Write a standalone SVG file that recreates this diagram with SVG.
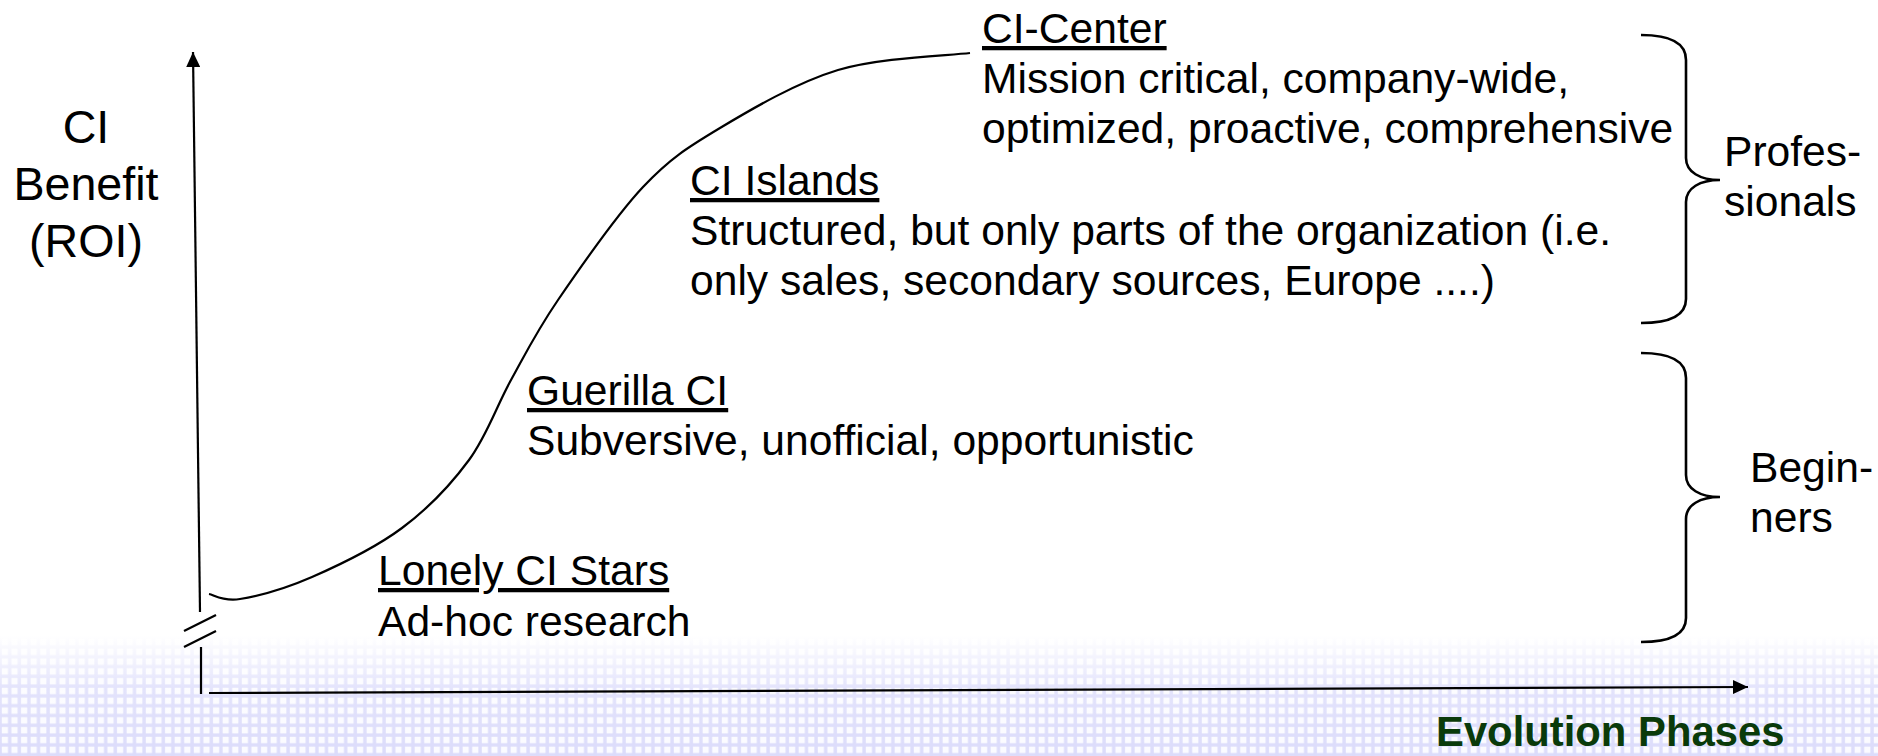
<svg xmlns="http://www.w3.org/2000/svg" width="1878" height="756" viewBox="0 0 1878 756">
<style>
  .t { font-family: 'Liberation Sans', Arial, sans-serif; font-size: 42.6px; fill: #000; }
  .ax { font-family: 'Liberation Sans', Arial, sans-serif; font-size: 46.6px; fill: #000; text-anchor: middle; }
  .u { text-decoration: underline; }
  .ln { fill: none; stroke: #000; stroke-width: 2.2; }
  .br { fill: none; stroke: #000; stroke-width: 2.6; }
  .ev { font-family: 'Liberation Sans', Arial, sans-serif; font-size: 41.8px; font-weight: bold; fill: #0a3a0a; }
</style>
<defs>
  <pattern id="grid" patternUnits="userSpaceOnUse" x="0" y="0" width="9.6" height="9.8">
    <rect width="9.6" height="9.8" fill="#dcdcfb"/>
    <rect x="1.8" y="1.8" width="6.2" height="6.4" fill="#fbfbff"/>
  </pattern>
  <linearGradient id="fade" x1="0" y1="0" x2="0" y2="1">
    <stop offset="0" stop-color="#fff" stop-opacity="1"/>
    <stop offset="0.45" stop-color="#fff" stop-opacity="0.2"/>
    <stop offset="1" stop-color="#fff" stop-opacity="0"/>
  </linearGradient>
  <marker id="arr" viewBox="0 0 15 14" refX="15" refY="7" markerWidth="15" markerHeight="14" markerUnits="userSpaceOnUse" orient="auto">
    <path d="M0,0 L15,7 L0,14 z" fill="#000"/>
  </marker>
</defs>
<rect width="1878" height="756" fill="#fff"/>
<g id="background">
  <rect x="0" y="636" width="1878" height="120" fill="url(#grid)"/>
  <rect x="0" y="636" width="1878" height="120" fill="url(#fade)"/>
</g>

<g id="connectors">
  <line class="ln" x1="200" y1="612" x2="193" y2="52" marker-end="url(#arr)"/>
  <line class="ln" x1="201" y1="647" x2="201" y2="694"/>
  <line class="ln" x1="184" y1="631" x2="216" y2="615"/>
  <line class="ln" x1="184" y1="647" x2="216" y2="631"/>
  <line class="ln" x1="209" y1="693" x2="1748" y2="687" marker-end="url(#arr)"/>
  <path class="ln" d="M209,594 C214.2,594.8 222.8,601.8 240,599 C257.2,596.2 285,588.8 312,577 C339,565.2 375.8,547.5 402,528 C428.2,508.5 450.8,484.7 469,460 C487.2,435.3 496.2,406.7 511,380 C525.8,353.3 536,332.2 558,300 C580,267.8 616,215.7 643,187 C670,158.3 687.5,147.5 720,128 C752.5,108.5 796.8,82.5 838,70 C879.2,57.5 945.5,55.8 970,53"/>
</g>

<g id="y-axis-label">
  <text class="ax" x="86" y="143">CI</text>
  <text class="ax" x="86" y="200">Benefit</text>
  <text class="ax" x="86" y="257">(ROI)</text>
</g>

<g id="x-axis-label">
  <text class="ev" x="1436" y="746">Evolution Phases</text>
</g>

<g id="lonely-ci-stars">
  <text class="t u" x="378" y="585">Lonely CI Stars</text>
  <text class="t" x="378" y="636">Ad-hoc research</text>
</g>

<g id="guerilla-ci">
  <text class="t u" x="527" y="405">Guerilla CI</text>
  <text class="t" x="527" y="455">Subversive, unofficial, opportunistic</text>
</g>

<g id="ci-islands">
  <text class="t u" x="690" y="195">CI Islands</text>
  <text class="t" x="690" y="245">Structured, but only parts of the organization (i.e.</text>
  <text class="t" x="690" y="295">only sales, secondary sources, Europe ....)</text>
</g>

<g id="ci-center">
  <text class="t u" x="982" y="43">CI-Center</text>
  <text class="t" x="982" y="93">Mission critical, company-wide,</text>
  <text class="t" x="982" y="143">optimized, proactive, comprehensive</text>
</g>

<g id="professionals">
  <path class="br" d="M1641,35 C1670,35 1686,43 1686,60 L1686,158 C1686,172 1700,180 1720,180 C1700,180 1686,188 1686,202 L1686,299 C1686,315 1670,323 1641,323"/>
  <text class="t" x="1724" y="166">Profes-</text>
  <text class="t" x="1724" y="216">sionals</text>
</g>

<g id="beginners">
  <path class="br" d="M1641,353 C1670,353 1686,361 1686,378 L1686,475 C1686,489 1700,497 1720,497 C1700,497 1686,505 1686,519 L1686,618 C1686,634 1670,642 1641,642"/>
  <text class="t" x="1750" y="482">Begin-</text>
  <text class="t" x="1750" y="532">ners</text>
</g>
</svg>
